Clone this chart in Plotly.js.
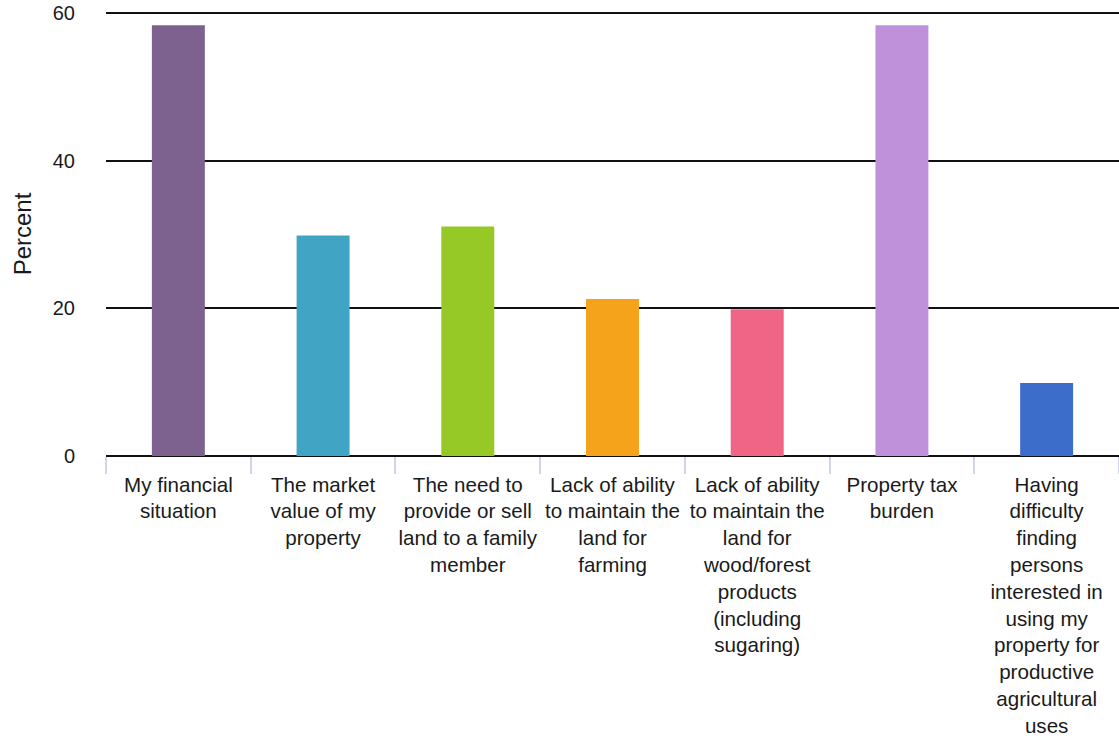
<!DOCTYPE html>
<html>
<head>
<meta charset="utf-8">
<script src="https://cdn.plot.ly/plotly-3.0.1.min.js"></script>
<style>html,body{margin:0;padding:0;background:#fff;}#chart{width:1119px;height:742px;}</style>
</head>
<body>
<div id="chart"></div>
<script>
const categories = [
  "My financial<br>situation",
  "The market<br>value of my<br>property",
  "The need to<br>provide or sell<br>land to a family<br>member",
  "Lack of ability<br>to maintain the<br>land for<br>farming",
  "Lack of ability<br>to maintain the<br>land for<br>wood/forest<br>products<br>(including<br>sugaring)",
  "Property tax<br>burden",
  "Having<br>difficulty<br>finding<br>persons<br>interested in<br>using my<br>property for<br>productive<br>agricultural<br>uses"
];
const percentValues = [58.4, 29.9, 31.1, 21.3, 19.9, 58.4, 9.9];
const barColors = ["#7d618e", "#40a4c4", "#96c826", "#f5a31a", "#f06485", "#bf91da", "#3d6dcb"];
const yTicks = [0, 20, 40, 60];

const trace = {
  type: "bar",
  x: categories,
  y: percentValues,
  marker: {color: barColors},
  hoverinfo: "none"
};

const layout = {
  width: 1119,
  height: 742,
  margin: {l: 106, r: 0, t: 12, b: 286},
  paper_bgcolor: "#ffffff",
  plot_bgcolor: "#ffffff",
  bargap: 0.634,
  showlegend: false,
  font: {family: "Liberation Sans, Arial, Helvetica, sans-serif", size: 20, color: "#1a1a1a"},
  xaxis: {
    type: "category",
    tickson: "boundaries",
    ticks: "outside",
    ticklen: 17,
    tickwidth: 2,
    tickcolor: "#cdd5ea",
    ticklabelstandoff: 14,
    showgrid: false,
    showline: false,
    tickangle: 0,
    tickfont: {size: 20.6, color: "#1a1a1a"},
    automargin: false
  },
  yaxis: {
    range: [0, 60.2],
    tickvals: yTicks,
    ticktext: yTicks.map(String),
    showgrid: true,
    gridcolor: "#111111",
    gridwidth: 2,
    zeroline: true,
    zerolinecolor: "#111111",
    zerolinewidth: 2,
    showline: false,
    ticks: "outside",
    ticklen: 26,
    tickcolor: "rgba(0,0,0,0)",
    tickfont: {size: 20, color: "#1a1a1a"},
    title: {text: "Percent", font: {size: 24, color: "#1a1a1a"}, standoff: 14},
    automargin: false
  }
};

Plotly.newPlot("chart", [trace], layout, {displayModeBar: false, staticPlot: true});
</script>
</body>
</html>
